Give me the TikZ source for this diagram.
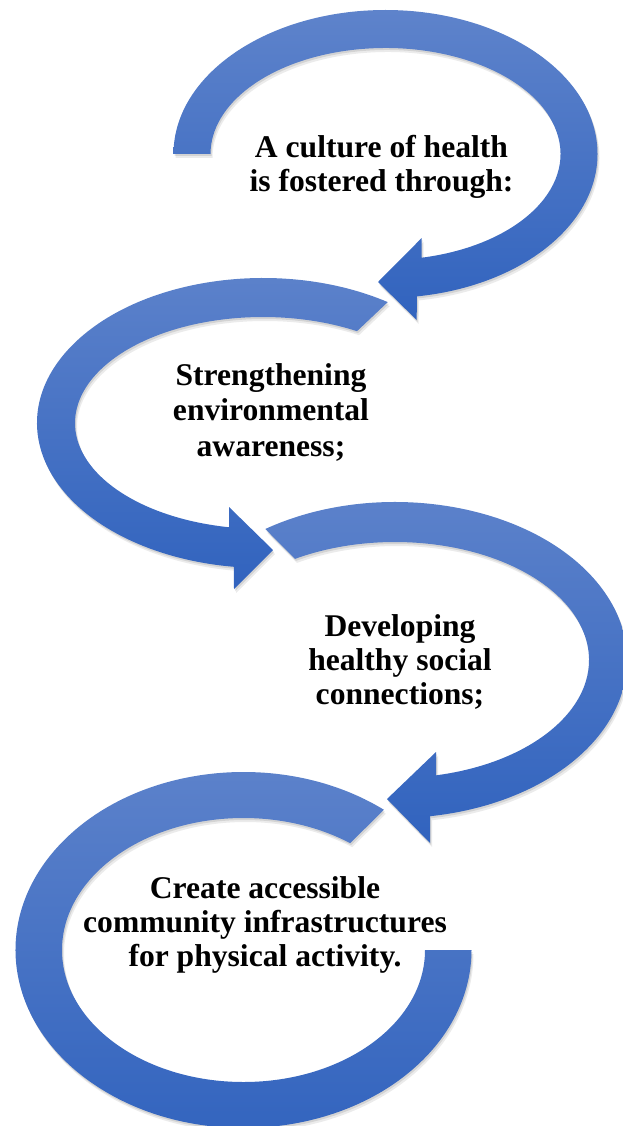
\documentclass[tikz,border=0pt]{standalone}
\usepackage{fontspec}
\setmainfont{Liberation Serif}
\usetikzlibrary{calc}
\definecolor{arcTop}{RGB}{94,131,203}
\definecolor{arcBot}{RGB}{49,99,190}
\begin{document}
\begin{tikzpicture}[x=1pt,y=-1pt,
  band/.style={top color=arcTop,bottom color=arcBot,draw=none,
    preaction={fill=black,opacity=0.10,transform canvas={shift={(1,2)}}},
    preaction={fill=black,opacity=0.08,transform canvas={shift={(2,4)}}}},
  lbl/.style={font=\bfseries\fontsize{31.6}{34}\selectfont,align=center,inner sep=0pt,text=black}]
\useasboundingbox (0,0) rectangle (622,1126);
% arc 1
\coordinate (c1) at (385.5,154);
\path[band] ($(c1)+(180:212 and 144)$) arc[start angle=180,end angle=441.5,x radius=212,y radius=144]
  -- (416.7,320) -- (378,282) -- (421.7,238)
  -- ($(c1)+(78.1:175 and 106)$) arc[start angle=438.1,end angle=180,x radius=175,y radius=106] -- cycle;
% arc 2
\coordinate (c2) at (263,423);
\path[band] ($(c2)+(303.5:226 and 145)$) arc[start angle=303.5,end angle=97.4,x radius=226,y radius=145]
  -- (234,589) -- (273,550) -- (229,507)
  -- ($(c2)+(100.4:188 and 106)$) arc[start angle=100.4,end angle=300,x radius=188,y radius=106] -- cycle;
% arc 3
\coordinate (c3) at (395,660);
\path[band] ($(c3)+(236:232 and 158)$) arc[start angle=236,end angle=441.3,x radius=232,y radius=158]
  -- (430,843) -- (387,799) -- (436,752)
  -- ($(c3)+(77.8:194 and 118)$) arc[start angle=437.8,end angle=239,x radius=194,y radius=118] -- cycle;
% arc 4
\coordinate (c4) at (243.5,950);
\path[band] ($(c4)+(308:228 and 178)$) arc[start angle=308,end angle=0,x radius=228,y radius=178]
  -- ($(c4)+(0:181.5 and 132)$) arc[start angle=0,end angle=306,x radius=181.5,y radius=132] -- cycle;
% texts
\node[lbl] (t1) at (381.5,166.5) {A culture of health\\is fostered through:};
\node[lbl,font=\bfseries\fontsize{31.6}{35.5}\selectfont] (t2) at (271,412) {Strengthening\\environmental\\awareness;};
\node[lbl] (t3) at (400,661.8) {Developing\\healthy social\\connections;};
\node[lbl] (t4) at (265,925) {Create accessible\\community infrastructures\\for physical activity.};
\end{tikzpicture}
\end{document}
